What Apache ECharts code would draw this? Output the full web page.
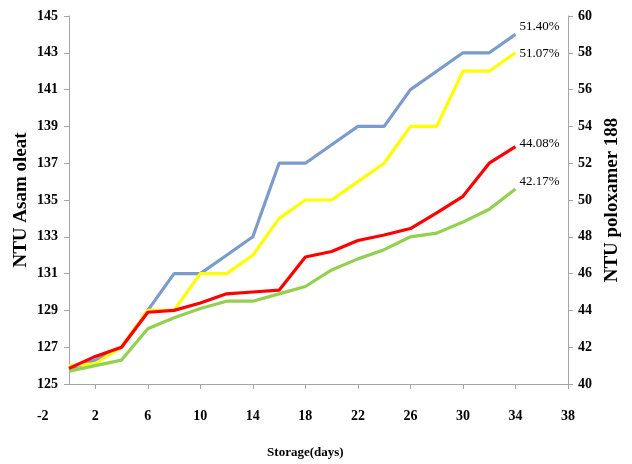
<!DOCTYPE html>
<html>
<head>
<meta charset="utf-8">
<script src="https://cdn.jsdelivr.net/npm/echarts@6/dist/echarts.min.js"></script>
<style>
html,body{margin:0;padding:0;background:#fff;}
#chart{width:632px;height:464px;}
</style>
</head>
<body>
<div id="chart"></div>
<script>
// ---- data ----
var days = [0, 2, 4, 6, 8, 10, 12, 14, 16, 18, 20, 22, 24, 26, 28, 30, 32, 34];
var xTickLabels = [-2, 2, 6, 10, 14, 18, 22, 26, 30, 34, 38];
// left axis (NTU Asam oleat)
var blueVals   = [125.8, 126.3, 127.0, 129.0, 131.0, 131.0, 132.0, 133.0, 137.0, 137.0, 138.0, 139.0, 139.0, 141.0, 142.0, 143.0, 143.0, 144.0];
var yellowVals = [126.0, 126.1, 127.0, 129.0, 129.0, 131.0, 131.0, 132.0, 134.0, 135.0, 135.0, 136.0, 137.0, 139.0, 139.0, 142.0, 142.0, 143.0];
// right axis (NTU poloxamer 188)
var redVals    = [40.85, 41.5, 42.0, 43.9, 44.0, 44.4, 44.9, 45.0, 45.1, 46.9, 47.2, 47.8, 48.1, 48.45, 49.3, 50.2, 52.0, 52.9];
var greenVals  = [40.7, 41.0, 41.3, 43.0, 43.6, 44.1, 44.5, 44.5, 44.9, 45.3, 46.2, 46.8, 47.3, 48.0, 48.2, 48.8, 49.5, 50.6];
var endLabels = ['51.40%', '51.07%', '44.08%', '42.17%'];

function pairs(vals) { return days.map(function (d, i) { return [d, vals[i]]; }); }

var serif = '"Liberation Serif", "Times New Roman", serif';
var axisGray = '#a6a6a6';
var gLeft = 69, gRight = 64, gTop = 16, gBottom = 80;
var gWidth = 632 - gLeft - gRight;
var labelLeft = gLeft - gWidth * 2 / 38;

function lineSeries(vals, color, yIdx, label, offY) {
  return {
    type: 'line', xAxisIndex: 1, yAxisIndex: yIdx,
    data: pairs(vals), symbol: 'none', silent: true,
    lineStyle: { color: color, width: 3.2 },
    itemStyle: { color: color },
    endLabel: {
      show: true, formatter: label, color: '#000',
      fontFamily: serif, fontSize: 13, distance: 4, offset: [0, offY]
    }
  };
}

var chart = echarts.init(document.getElementById('chart'));
chart.setOption({
  animation: false,
  backgroundColor: '#fff',
  grid: [
    { left: labelLeft, right: gRight, top: gTop, bottom: gBottom },
    { left: gLeft, right: gRight, top: gTop, bottom: gBottom }
  ],
  xAxis: [
    {
      gridIndex: 0, type: 'value', min: xTickLabels[0], max: xTickLabels[xTickLabels.length - 1], interval: 4,
      axisLine: { show: false }, axisTick: { show: false }, splitLine: { show: false },
      axisLabel: { color: '#000', fontFamily: serif, fontWeight: 'bold', fontSize: 14, margin: 26 },
      name: 'Storage(days)', nameLocation: 'middle', nameGap: 63,
      nameTextStyle: { color: '#000', fontFamily: serif, fontWeight: 'bold', fontSize: 13 }
    },
    {
      gridIndex: 1, type: 'value', min: 0, max: 38,
      axisLine: { show: true, lineStyle: { color: axisGray, width: 1 } },
      axisTick: { show: true, length: 5, customValues: xTickLabels.slice(1), lineStyle: { color: axisGray } },
      axisLabel: { show: false }, splitLine: { show: false }
    }
  ],
  yAxis: [
    { gridIndex: 0, type: 'value', show: false, min: 0, max: 1 },
    {
      gridIndex: 1, type: 'value', position: 'left', min: 125, max: 145, interval: 2,
      axisLine: { show: true, lineStyle: { color: axisGray } },
      axisTick: { show: true, length: 5, lineStyle: { color: axisGray } },
      splitLine: { show: false },
      axisLabel: { color: '#000', fontFamily: serif, fontWeight: 'bold', fontSize: 14, margin: 11 },
      name: 'NTU Asam oleat', nameLocation: 'middle', nameRotate: 90, nameGap: 38, nameMoveOverlap: false,
      nameTextStyle: { color: '#000', fontFamily: serif, fontWeight: 'bold', fontSize: 19 }
    },
    {
      gridIndex: 1, type: 'value', position: 'right', min: 40, max: 60, interval: 2,
      axisLine: { show: true, lineStyle: { color: axisGray } },
      axisTick: { show: true, length: 5, lineStyle: { color: axisGray } },
      splitLine: { show: false },
      axisLabel: { color: '#000', fontFamily: serif, fontWeight: 'bold', fontSize: 14, margin: 10 },
      name: 'NTU poloxamer 188', nameLocation: 'middle', nameRotate: 90, nameGap: 35,
      nameTextStyle: { color: '#000', fontFamily: serif, fontWeight: 'bold', fontSize: 19 }
    }
  ],
  series: [
    lineSeries(blueVals, '#7b9bcb', 1, endLabels[0], -8),
    lineSeries(yellowVals, '#ffff00', 1, endLabels[1], 1),
    lineSeries(greenVals, '#92d050', 2, endLabels[3], -7),
    lineSeries(redVals, '#ff0000', 2, endLabels[2], -3)
  ]
});
</script>
</body>
</html>
